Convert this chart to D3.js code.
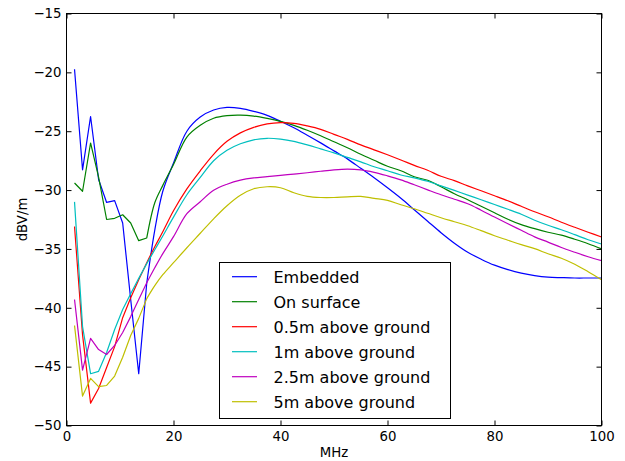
<!DOCTYPE html>
<html><head><meta charset="utf-8">
<script src="https://cdn.jsdelivr.net/npm/d3@7"></script>
<style>
html,body{margin:0;padding:0;background:#fff;}
svg{display:block;}
text{font-family:"DejaVu Sans",sans-serif;fill:#000;}
</style></head>
<body>
<svg id="chart" width="625" height="461"></svg>
<script>
const mhz = [1.5,3,4.5,6,7.5,9,10.5,12,13.5,15,16.5,18,20,
  22.5,25,27.5,30,32.5,35,37.5,40,42.5,45,47.5,50,52.5,55,57.5,60,62.5,65,67.5,70,72.5,75,77.5,80,82.5,85,87.5,90,92.5,95,97.5,100];

const embedded = [-19.73,-28.28,-23.75,-29.1,-31.05,-30.9,-32.8,-39.3,-45.6,-37.9,-33.4,-30.1,-27.7,
  -25.0,-23.8,-23.2,-22.98,-23.06,-23.31,-23.65,-24.16,-24.71,-25.34,-25.99,-26.67,-27.35,-28.15,-28.96,-29.81,-30.7,-31.67,-32.65,-33.62,-34.51,-35.28,-35.87,-36.38,-36.76,-37.06,-37.27,-37.4,-37.44,-37.47,-37.47,-37.47];
const onSurface = [-29.4,-30.1,-26.0,-28.9,-32.5,-32.4,-32.1,-32.8,-34.3,-34.07,-31.08,-29.6,-27.83,
  -25.5,-24.5,-23.9,-23.68,-23.64,-23.72,-23.91,-24.16,-24.5,-24.92,-25.39,-25.9,-26.41,-26.96,-27.47,-27.98,-28.36,-28.87,-29.17,-29.72,-30.31,-30.82,-31.38,-31.93,-32.48,-32.94,-33.28,-33.58,-33.83,-34.18,-34.56,-35.0];
const above05 = [-33.1,-42.3,-48.1,-46.86,-45.08,-43.3,-40.84,-39.14,-37.61,-36.17,-34.81,-33.54,-31.76,
  -29.9,-28.36,-26.96,-25.86,-25.14,-24.67,-24.38,-24.27,-24.33,-24.55,-24.84,-25.27,-25.69,-26.16,-26.58,-27.0,-27.44,-27.9,-28.32,-28.83,-29.2,-29.64,-30.06,-30.48,-30.91,-31.38,-31.84,-32.27,-32.73,-33.16,-33.58,-33.99];
const above1 = [-31.0,-41.6,-45.6,-45.4,-43.8,-41.85,-40.15,-38.8,-37.5,-36.25,-35.07,-33.9,-32.3,
  -30.4,-28.93,-27.51,-26.62,-26.07,-25.73,-25.6,-25.67,-25.86,-26.16,-26.5,-26.84,-27.22,-27.6,-28.02,-28.36,-28.72,-28.96,-29.25,-29.64,-30.03,-30.43,-30.82,-31.23,-31.63,-32.05,-32.56,-32.99,-33.37,-33.79,-34.22,-34.58];
const above25 = [-39.3,-45.3,-42.6,-43.55,-43.97,-43.2,-42.1,-40.75,-39.3,-37.87,-36.6,-35.4,-33.96,
  -32.01,-30.99,-30.02,-29.5,-29.15,-28.96,-28.86,-28.75,-28.64,-28.53,-28.4,-28.28,-28.22,-28.28,-28.49,-28.79,-29.13,-29.55,-29.98,-30.4,-30.78,-31.16,-31.71,-32.29,-32.86,-33.42,-33.98,-34.42,-34.88,-35.28,-35.66,-36.0];
const above5 = [-41.5,-47.5,-46.0,-46.7,-46.6,-45.8,-44.2,-42.35,-40.9,-39.22,-38.12,-37.19,-36.17,
  -34.9,-33.67,-32.44,-31.33,-30.44,-29.89,-29.72,-29.8,-30.23,-30.53,-30.63,-30.63,-30.57,-30.54,-30.7,-30.87,-31.25,-31.59,-31.97,-32.35,-32.69,-33.03,-33.45,-33.88,-34.26,-34.64,-34.98,-35.41,-35.79,-36.3,-36.93,-37.61];

const seriesNames = ["Embedded","On surface","0.5m above ground","1m above ground","2.5m above ground","5m above ground"];
const seriesValues = [embedded,onSurface,above05,above1,above25,above5];
const seriesColors = ["#0000ff","#008000","#ff0000","#00bfbf","#bf00bf","#bfbf00"];
const xTicks = [0,20,40,60,80,100];
const yTicks = [-50,-45,-40,-35,-30,-25,-20,-15];

const svg = d3.select("#chart");
const L = 66.5, R = 601.5, T = 13.5, B = 425.5;
const x = d3.scaleLinear().domain([0,100]).range([L,R]);
const y = d3.scaleLinear().domain([-50,-15]).range([B,T]);

// series: jagged low-frequency part drawn straight, smooth part drawn as a spline
const lineLin = d3.line().x(d => x(d[0])).y(d => y(d[1])).curve(d3.curveLinear);
const lineSmooth = d3.line().x(d => x(d[0])).y(d => y(d[1])).curve(d3.curveCatmullRom.alpha(0.5));
const split = 9; // index of 15 MHz
seriesValues.forEach((vals,i) => {
  const pts = mhz.map((m,j) => [m, vals[j]]);
  const d = lineLin(pts.slice(0, split+1)) + lineSmooth(pts.slice(split)).replace(/^M/,"L");
  svg.append("path")
    .attr("d", d)
    .attr("fill","none")
    .attr("stroke", seriesColors[i])
    .attr("stroke-width",1.2)
    .attr("stroke-linejoin","round");
});

// axes (inside ticks)
const fs = "13.3px";
const gx = svg.append("g").attr("transform",`translate(0,${B})`)
  .call(d3.axisBottom(x).tickValues(xTicks).tickSize(-5).tickPadding(6).tickFormat(d3.format("d")));
const gy = svg.append("g").attr("transform",`translate(${L},0)`)
  .call(d3.axisLeft(y).tickValues(yTicks).tickSize(-5).tickPadding(5).tickFormat(d3.format("d")));
const gt = svg.append("g").attr("transform",`translate(0,${T})`)
  .call(d3.axisTop(x).tickValues(xTicks).tickSize(-5).tickFormat(""));
const gr = svg.append("g").attr("transform",`translate(${R},0)`)
  .call(d3.axisRight(y).tickValues(yTicks).tickSize(-5).tickFormat(""));
[gx,gy,gt,gr].forEach(g => {
  g.select(".domain").remove();
  g.selectAll("line").attr("stroke","#000");
  g.selectAll("text").attr("font-family","DejaVu Sans").attr("font-size",fs).attr("fill","#000");
});

svg.append("rect").attr("x",L).attr("y",T).attr("width",R-L).attr("height",B-T)
  .attr("fill","none").attr("stroke","#000").attr("stroke-width",1);

// axis labels
svg.append("text").attr("x",(L+R)/2).attr("y",456.5).attr("text-anchor","middle")
  .attr("font-size",fs).text("MHz");
svg.append("text").attr("transform",`translate(27,${(T+B)/2}) rotate(-90)`)
  .attr("text-anchor","middle").attr("font-size",fs).text("dBV/m");

// legend
const lg = svg.append("g");
lg.append("rect").attr("x",219.5).attr("y",262.5).attr("width",231).attr("height",156)
  .attr("fill","#fff").attr("stroke","#000").attr("stroke-width",1);
seriesNames.forEach((name,i) => {
  const ry = 276.7 + 25*i;
  lg.append("line").attr("x1",232).attr("x2",257).attr("y1",ry).attr("y2",ry)
    .attr("stroke",seriesColors[i]).attr("stroke-width",1.2);
  lg.append("text").attr("x",273.5).attr("y",ry+6).attr("font-size","16px").text(name);
});
</script>
</body></html>
